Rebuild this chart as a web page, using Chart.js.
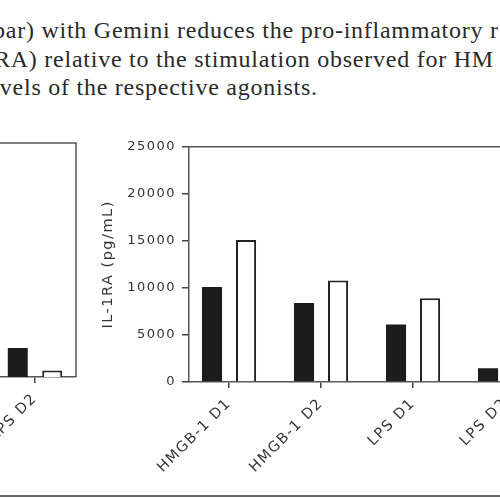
<!DOCTYPE html>
<html>
<head>
<meta charset="utf-8">
<script src="https://cdn.jsdelivr.net/npm/chart.js@4/dist/chart.umd.min.js"></script>
<style>
  html, body { margin: 0; padding: 0; width: 500px; height: 500px; overflow: hidden; background: #fff; }
  .line { position: absolute; font-family: "Liberation Serif", serif; font-size: 24px; letter-spacing: 0.75px; color: #2a2a2a; white-space: nowrap; }
  #left { position: absolute; left: -6px; top: 133px; }
  #right { position: absolute; left: 100px; top: 133px; }
  #rule { position: absolute; left: 0; top: 495px; width: 500px; height: 2px; background: #666; }
</style>
</head>
<body>
<div class="line" style="left:-7px; top:17px;">bar) with Gemini reduces the pro-inflammatory r</div>
<div class="line" style="left:-6px; top:46px;">RA) relative to the stimulation observed for HM</div>
<div class="line" style="left:-19px; top:74px;">levels of the respective agonists.</div>
<canvas id="left" width="86" height="344"></canvas>
<canvas id="right" width="500" height="349"></canvas>
<div id="rule"></div>
<script>
// categories and values (IL-1RA, pg/mL)
const groups = ['HMGB-1 D1', 'HMGB-1 D2', 'LPS D1', 'LPS D2'];
const agonist = [10100, 8400, 6100, 1450];
const withGemini = [15100, 10800, 8900, null];  // last bar is cut off in the picture
const yTicks = [0, 5000, 10000, 15000, 20000, 25000];

// left panel: only its last group shows
const leftGroups = ['LPS D2'];
const leftAgonist = [310];
const leftGemini = [70];

const ink = '#333';
const font = { family: '"DejaVu Sans", sans-serif', size: 13 };
const xFont = { family: '"DejaVu Sans", sans-serif', size: 14.5 };

// draw top and right edges of the plot box
const boxPlugin = {
  id: 'box',
  beforeDraw(chart) { chart.ctx.letterSpacing = '1.5px'; },
  afterDraw(chart) {
    const { ctx, chartArea: a } = chart;
    ctx.save();
    ctx.strokeStyle = '#555';
    ctx.lineWidth = 1.5;
    ctx.beginPath();
    ctx.moveTo(a.left, a.top);
    ctx.lineTo(a.right, a.top);
    ctx.lineTo(a.right, a.bottom);
    ctx.stroke();
    ctx.restore();
  }
};

function barSets(a, b) {
  return [
    { label: 'agonist', data: a, backgroundColor: '#1c1c1c', borderColor: '#1c1c1c', borderWidth: 0 },
    { label: 'agonist + Gemini', data: b, backgroundColor: '#fff', borderColor: '#222', borderWidth: 2 }
  ];
}

// right panel, linear x so the first group sits ~40px from the y axis
new Chart(document.getElementById('right'), {
  type: 'bar',
  data: {
    datasets: barSets(
      agonist.map((v, i) => ({ x: i, y: v })),
      withGemini.map((v, i) => ({ x: i, y: v }))
    )
  },
  options: {
    responsive: false,
    animation: false,
    categoryPercentage: 0.74,
    barPercentage: 0.59,
    layout: { padding: { top: 10, right: 8, left: 0, bottom: 0 } },
    plugins: { legend: { display: false }, tooltip: { enabled: false } },
    scales: {
      x: {
        type: 'linear',
        offset: false,
        min: -0.435,
        max: 3.945,
        afterFit(s) { s.height = 100; s.paddingLeft = 0; s.paddingRight = 0; },
        afterBuildTicks(s) {
          s.ticks = groups.map((g, i) => ({ value: i }));
        },
        ticks: {
          autoSkip: false, minRotation: 45, maxRotation: 45, color: ink, font: xFont, padding: 7,
          callback: v => groups[v]
        },
        grid: { offset: false, drawOnChartArea: false, tickLength: 6, color: '#444', lineWidth: 1.5 },
        border: { color: '#555', width: 1.5 }
      },
      y: {
        min: 0,
        max: 25000,
        afterFit(s) { s.width = 89; },
        afterBuildTicks(s) { s.ticks = yTicks.map(v => ({ value: v })); },
        ticks: { color: ink, font, padding: 6, callback: v => String(v) },
        grid: { drawOnChartArea: false, tickLength: 7, color: '#444', lineWidth: 1.5 },
        border: { color: '#555', width: 1.5 },
        title: { display: true, text: 'IL-1RA (pg/mL)', color: ink, font: xFont, padding: 0 }
      }
    }
  },
  plugins: [boxPlugin]
});

// left panel
new Chart(document.getElementById('left'), {
  type: 'bar',
  data: { labels: leftGroups, datasets: barSets(leftAgonist, leftGemini) },
  options: {
    responsive: false,
    animation: false,
    categoryPercentage: 0.84,
    barPercentage: 0.58,
    layout: { padding: { top: 10, right: 4, left: 0, bottom: 0 } },
    plugins: { legend: { display: false }, tooltip: { enabled: false } },
    scales: {
      x: {
        afterFit(s) { s.height = 100; s.paddingLeft = 0; s.paddingRight = 0; },
        ticks: { autoSkip: false, minRotation: 45, maxRotation: 45, color: ink, font: xFont, padding: 7 },
        grid: { offset: false, drawOnChartArea: false, tickLength: 6, color: '#444', lineWidth: 1.5 },
        border: { color: '#555', width: 1.5 }
      },
      y: { display: false, min: 0, max: 2500 }
    }
  },
  plugins: [boxPlugin]
});
</script>
</body>
</html>
